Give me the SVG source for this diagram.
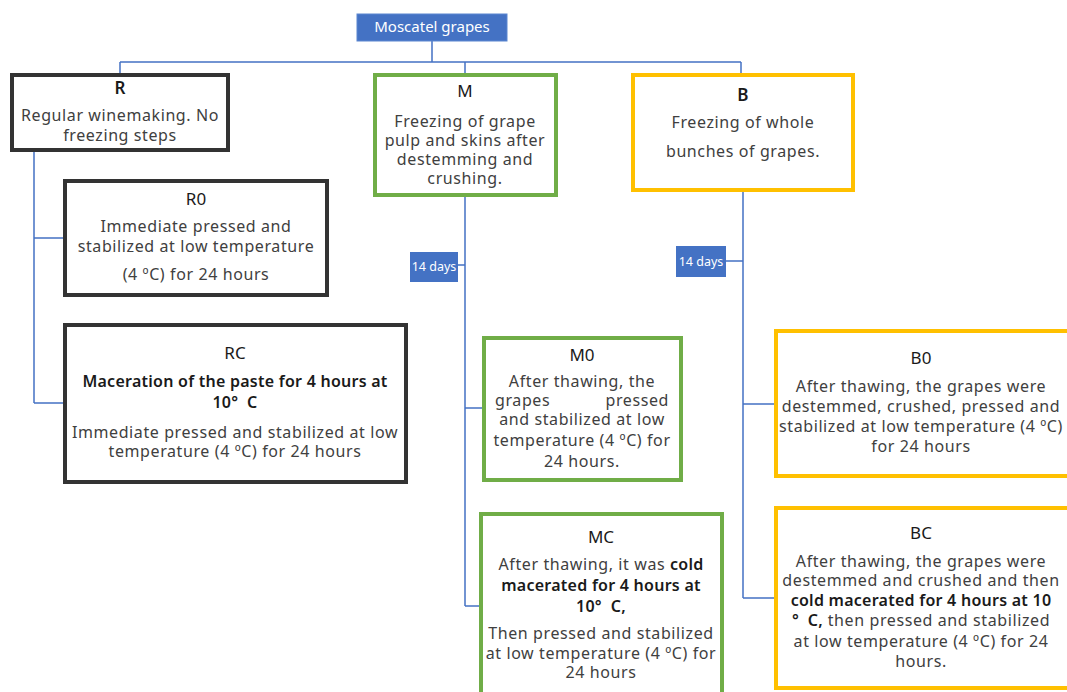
<svg xmlns="http://www.w3.org/2000/svg" width="1067" height="692" viewBox="0 0 1067 692">
<style>
.t{font-family:"Noto Sans","Open Sans",sans-serif;font-size:16px;letter-spacing:0.6px;fill:#404040;text-anchor:middle}
.h{font-family:"Noto Sans","Open Sans",sans-serif;font-size:17px;fill:#1a1a1a;text-anchor:middle}
.b{font-weight:600;fill:#1a1a1a;letter-spacing:0.25px}
.lbl{font-family:"Noto Sans","Open Sans",sans-serif;fill:#fff;text-anchor:middle}
.k{fill:#fff;stroke:#333;stroke-width:4}
.g{fill:#fff;stroke:#70AD47;stroke-width:4}
.y{fill:#fff;stroke:#FFC000;stroke-width:4}
.c{fill:none;stroke:#4472C4;stroke-width:1.5}
</style>
<rect width="1067" height="692" fill="#fff"/>
<g id="connectors">
<path class="c" d="M432 41V62M120 62H741M120 62V75M465 62V75M741 62V75"/>
<path class="c" d="M34 150V403M34 238H65M34 403H65"/>
<path class="c" d="M465 195V606M458 265H465M465 408H484M465 606H481"/>
<path class="c" d="M743 190V598M726 261H743M743 404H776M743 598H776"/>
</g>
<g id="moscatel">
<rect x="357" y="14" width="150" height="27" fill="#4472C4" stroke="#5b86d0" stroke-width="1"/>
<text class="lbl" x="432" y="32" font-size="15">Moscatel grapes</text>
</g>
<g id="R">
<rect class="k" x="12" y="75" width="216" height="75"/>
<text class="h b" x="120" y="94" font-size="15">R</text>
<text class="t" x="120" y="121">Regular winemaking. No</text>
<text class="t" x="120" y="141">freezing steps</text>
</g>
<g id="M">
<rect class="g" x="375" y="75" width="181" height="120"/>
<text class="h" x="465" y="97">M</text>
<text class="t" x="465" y="127">Freezing of grape</text>
<text class="t" x="465" y="146">pulp and skins after</text>
<text class="t" x="465" y="165">destemming and</text>
<text class="t" x="465" y="184">crushing.</text>
</g>
<g id="B">
<rect class="y" x="633" y="75" width="220" height="115"/>
<text class="h b" x="743" y="101" font-size="15">B</text>
<text class="t" x="743" y="128">Freezing of whole</text>
<text class="t" x="743" y="157">bunches of grapes.</text>
</g>
<g id="R0">
<rect class="k" x="65" y="181" width="262" height="114"/>
<text class="h" x="196" y="205">R0</text>
<text class="t" x="196" y="232">Immediate pressed and</text>
<text class="t" x="196" y="252">stabilized at low temperature</text>
<text class="t" x="196" y="280">(4 ºC) for 24 hours</text>
</g>
<g id="RC">
<rect class="k" x="65" y="325" width="341" height="157"/>
<text class="h" x="235" y="359">RC</text>
<text class="t b" x="235" y="387">Maceration of the paste for 4 hours at</text>
<text class="t b" x="235" y="408">10°&#160;&#160;C</text>
<text class="t" x="235" y="438">Immediate pressed and stabilized at low</text>
<text class="t" x="235" y="457">temperature (4 ºC) for 24 hours</text>
</g>
<g id="days-M">
<rect x="410" y="252" width="48" height="30" fill="#4472C4"/>
<text class="lbl" x="434" y="271" font-size="12.5">14 days</text>
</g>
<g id="days-B">
<rect x="676" y="246" width="50" height="31" fill="#4472C4"/>
<text class="lbl" x="701" y="266" font-size="12.5">14 days</text>
</g>
<g id="M0">
<rect class="g" x="484" y="338" width="197" height="142"/>
<text class="h" x="582" y="361">M0</text>
<text class="t" x="582" y="387">After thawing, the</text>
<text class="t" x="495" y="406" style="text-anchor:start">grapes</text>
<text class="t" x="669" y="406" style="text-anchor:end">pressed</text>
<text class="t" x="582" y="425">and stabilized at low</text>
<text class="t" x="582" y="446">temperature (4 ºC) for</text>
<text class="t" x="582" y="467">24 hours.</text>
</g>
<g id="MC">
<rect class="g" x="481" y="514" width="241" height="182"/>
<text class="h" x="601" y="543">MC</text>
<text class="t" x="601" y="570">After thawing, it was <tspan class="b">cold</tspan></text>
<text class="t b" x="601" y="591">macerated for 4 hours at</text>
<text class="t b" x="601" y="612">10°&#160;&#160;C,</text>
<text class="t" x="601" y="639">Then pressed and stabilized</text>
<text class="t" x="601" y="659">at low temperature (4 ºC) for</text>
<text class="t" x="601" y="678">24 hours</text>
</g>
<g id="B0">
<rect class="y" x="776" y="331" width="295" height="145"/>
<text class="h" x="921" y="364">B0</text>
<text class="t" x="921" y="392">After thawing, the grapes were</text>
<text class="t" x="921" y="412">destemmed, crushed, pressed and</text>
<text class="t" x="921" y="432">stabilized at low temperature (4 ºC)</text>
<text class="t" x="921" y="452">for 24 hours</text>
</g>
<g id="BC">
<rect class="y" x="776" y="508" width="295" height="180"/>
<text class="h" x="921" y="539">BC</text>
<text class="t" x="921" y="567">After thawing, the grapes were</text>
<text class="t" x="921" y="586">destemmed and crushed and then</text>
<text class="t b" x="921" y="606">cold macerated for 4 hours at 10</text>
<text class="t" x="921" y="626"><tspan class="b">°&#160;&#160;C,</tspan> then pressed and stabilized</text>
<text class="t" x="921" y="647">at low temperature (4 ºC) for 24</text>
<text class="t" x="921" y="667">hours.</text>
</g>
</svg>
